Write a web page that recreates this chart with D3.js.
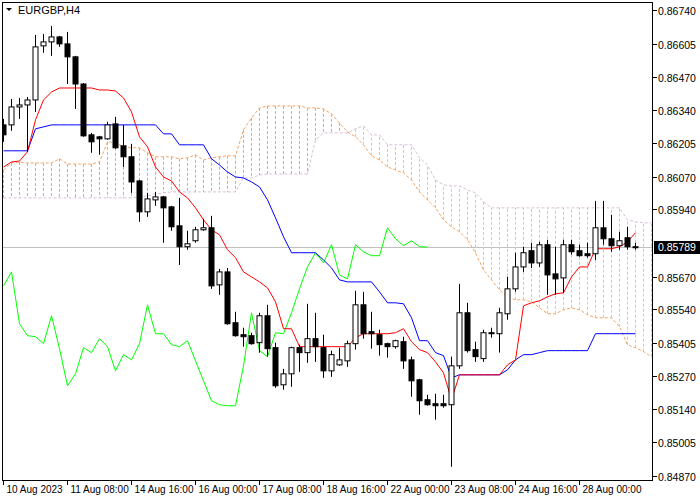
<!DOCTYPE html>
<html><head><meta charset="utf-8">
<script src="https://cdn.jsdelivr.net/npm/d3@7"></script>
<style>body{margin:0;background:#fff}svg{display:block}</style>
</head><body>
<svg id="c" width="700" height="500"></svg>
<script>
const symbol = "EURGBP,H4";
const lastPrice = 0.85789;
const open = [0.86279,0.86279,0.86351,0.86359,0.86379,0.86596,0.86612,0.86632,0.86604,0.86552,
0.86443,0.86239,0.86231,0.86223,0.86283,0.86195,0.86151,0.86054,0.85930,0.85978,
0.85990,0.85950,0.85874,0.85790,0.85814,0.85858,0.85866,0.85637,0.85689,0.85485,
0.85437,0.85433,0.85405,0.85513,0.85385,0.85236,0.85280,0.85385,0.85365,0.85421,
0.85385,0.85292,0.85316,0.85332,0.85401,0.85557,0.85449,0.85437,0.85401,0.85389,
0.85409,0.85336,0.85256,0.85176,0.85160,0.85160,0.85156,0.85312,0.85525,0.85377,
0.85341,0.85445,0.85441,0.85521,0.85621,0.85709,0.85774,0.85725,0.85798,0.85681,
0.85665,0.85798,0.85774,0.85762,0.85762,0.85866,0.85822,0.85794,0.85826,0.85790];
const high = [0.86303,0.86383,0.86387,0.86391,0.86640,0.86644,0.86676,0.86636,0.86652,0.86556,
0.86447,0.86247,0.86235,0.86291,0.86311,0.86279,0.86203,0.86058,0.86006,0.86010,
0.85994,0.85954,0.85986,0.85854,0.85870,0.85902,0.85914,0.85701,0.85705,0.85529,
0.85465,0.85445,0.85525,0.85557,0.85405,0.85300,0.85389,0.85397,0.85561,0.85525,
0.85437,0.85373,0.85385,0.85413,0.85613,0.85609,0.85529,0.85457,0.85405,0.85417,
0.85429,0.85349,0.85260,0.85196,0.85200,0.85196,0.85349,0.85641,0.85565,0.85409,
0.85457,0.85465,0.85545,0.85669,0.85766,0.85790,0.85806,0.85810,0.85818,0.85790,
0.85818,0.85818,0.85798,0.85806,0.85974,0.85974,0.85918,0.85850,0.85870,0.85806];
const low = [0.86211,0.86255,0.86303,0.86171,0.86331,0.86568,0.86556,0.86592,0.86443,0.86343,
0.86231,0.86167,0.86159,0.86219,0.86183,0.86110,0.86006,0.85890,0.85910,0.85954,
0.85806,0.85854,0.85717,0.85778,0.85806,0.85854,0.85621,0.85597,0.85477,0.85429,
0.85389,0.85397,0.85365,0.85349,0.85224,0.85216,0.85228,0.85288,0.85324,0.85328,
0.85264,0.85268,0.85312,0.85308,0.85377,0.85421,0.85381,0.85353,0.85345,0.85381,
0.85300,0.85188,0.85116,0.85152,0.85096,0.85144,0.84907,0.85300,0.85365,0.85328,
0.85328,0.85425,0.85365,0.85497,0.85609,0.85689,0.85705,0.85709,0.85597,0.85597,
0.85605,0.85758,0.85750,0.85746,0.85737,0.85798,0.85770,0.85778,0.85778,0.85778];
const close = [0.86239,0.86351,0.86359,0.86379,0.86592,0.86612,0.86632,0.86604,0.86552,0.86443,
0.86235,0.86211,0.86223,0.86279,0.86187,0.86151,0.86050,0.85930,0.85982,0.85990,
0.85946,0.85870,0.85790,0.85802,0.85858,0.85866,0.85633,0.85689,0.85481,0.85433,
0.85429,0.85401,0.85513,0.85381,0.85232,0.85280,0.85385,0.85365,0.85421,0.85389,
0.85292,0.85357,0.85336,0.85401,0.85557,0.85441,0.85441,0.85397,0.85389,0.85413,
0.85332,0.85252,0.85172,0.85156,0.85152,0.85152,0.85312,0.85525,0.85373,0.85349,
0.85445,0.85441,0.85525,0.85621,0.85709,0.85766,0.85725,0.85798,0.85677,0.85661,
0.85798,0.85770,0.85754,0.85754,0.85866,0.85822,0.85794,0.85814,0.85790,0.85789];
const tenkan = [0.86110,0.86130,0.86134,0.86171,0.86299,0.86379,0.86411,0.86427,0.86427,0.86427,
0.86427,0.86427,0.86419,0.86419,0.86415,0.86387,0.86331,0.86231,0.86191,0.86110,
0.86070,0.86054,0.86010,0.85986,0.85946,0.85898,0.85858,0.85838,0.85778,0.85746,
0.85689,0.85669,0.85649,0.85625,0.85569,0.85461,0.85461,0.85389,0.85389,0.85389,
0.85389,0.85389,0.85389,0.85389,0.85425,0.85441,0.85441,0.85441,0.85441,0.85445,
0.85461,0.85409,0.85377,0.85365,0.85328,0.85284,0.85176,0.85276,0.85276,0.85276,
0.85276,0.85276,0.85276,0.85316,0.85336,0.85553,0.85565,0.85573,0.85589,0.85601,
0.85605,0.85669,0.85709,0.85709,0.85782,0.85782,0.85782,0.85790,0.85810,0.85846];
const kijun = [0.86175,0.86175,0.86175,0.86175,0.86263,0.86271,0.86279,0.86279,0.86279,0.86279,
0.86279,0.86279,0.86279,0.86279,0.86279,0.86279,0.86279,0.86279,0.86279,0.86279,
0.86243,0.86243,0.86199,0.86199,0.86199,0.86199,0.86143,0.86118,0.86090,0.86070,
0.86066,0.86050,0.86030,0.85978,0.85906,0.85830,0.85766,0.85766,0.85766,0.85766,
0.85737,0.85705,0.85657,0.85649,0.85649,0.85649,0.85649,0.85609,0.85565,0.85565,
0.85561,0.85505,0.85413,0.85413,0.85365,0.85353,0.85264,0.85276,0.85276,0.85276,
0.85276,0.85276,0.85276,0.85296,0.85336,0.85357,0.85357,0.85365,0.85373,0.85373,
0.85373,0.85373,0.85373,0.85373,0.85441,0.85441,0.85441,0.85441,0.85441,0.85441];
const senkouA = [0.86098,0.86126,0.86130,0.86126,0.86126,0.86126,0.86126,0.86143,0.86122,0.86122,
0.86122,0.86122,0.86130,0.86211,0.86207,0.86191,0.86187,0.86187,0.86167,0.86151,
0.86151,0.86151,0.86143,0.86147,0.86159,0.86138,0.86147,0.86151,0.86155,0.86155,
0.86259,0.86307,0.86347,0.86355,0.86355,0.86355,0.86355,0.86355,0.86347,0.86347,
0.86343,0.86323,0.86287,0.86251,0.86231,0.86199,0.86155,0.86138,0.86110,0.86098,
0.86086,0.86058,0.86010,0.85978,0.85946,0.85898,0.85870,0.85850,0.85818,0.85766,
0.85697,0.85657,0.85617,0.85589,0.85577,0.85577,0.85569,0.85545,0.85521,0.85521,
0.85537,0.85545,0.85537,0.85517,0.85505,0.85505,0.85505,0.85469,0.85397,0.85385,
0.85369,0.85349];
const senkouB = [0.85986,0.85986,0.85986,0.85986,0.85986,0.85986,0.85986,0.85986,0.85986,0.85986,
0.85986,0.85986,0.85986,0.85986,0.85986,0.85986,0.85986,0.85990,0.85994,0.86002,
0.86006,0.86010,0.86010,0.86010,0.86010,0.86010,0.86010,0.86010,0.86010,0.86010,
0.86066,0.86066,0.86078,0.86082,0.86082,0.86082,0.86082,0.86082,0.86082,0.86219,
0.86247,0.86247,0.86247,0.86247,0.86263,0.86275,0.86239,0.86239,0.86199,0.86199,
0.86199,0.86199,0.86147,0.86118,0.86058,0.86038,0.86034,0.86034,0.86018,0.86006,
0.85970,0.85946,0.85946,0.85946,0.85946,0.85946,0.85946,0.85946,0.85946,0.85946,
0.85946,0.85946,0.85946,0.85946,0.85946,0.85946,0.85946,0.85946,0.85898,0.85890,
0.85886,0.85886];
const chikouShift = 26;
// 0.85805 is hidden behind the current-price box in the reference
const priceTicks = [0.86740,0.86605,0.86470,0.86340,0.86205,0.86070,0.85940,0.85670,0.85540,0.85405,0.85270,0.85140,0.85005,0.84870];
const timeTickIdx = [0,8,16,24,32,40,48,56,64,72];
const timeTickLabels = ["10 Aug 2023","11 Aug 08:00","14 Aug 16:00","16 Aug 00:00","17 Aug 08:00","18 Aug 16:00","22 Aug 00:00","23 Aug 08:00","24 Aug 16:00","28 Aug 00:00"];

const svg = d3.select("#c");
const L = 2, R = 653, T = 2, B = 480;
const x = d3.scaleLinear().domain([0, 81]).range([3, 651]);
const y = d3.scaleLinear().domain([0.84870, 0.86740]).range([476, 10]);
const font = "'Liberation Sans', Arial, sans-serif";

svg.append("defs").append("clipPath").attr("id","pc").append("rect")
  .attr("x",L).attr("y",T).attr("width",R-L).attr("height",B-T);
const g = svg.append("g").attr("clip-path","url(#pc)");

g.append("line").attr("x1",L).attr("x2",R).attr("y1",Math.round(y(lastPrice))+0.5).attr("y2",Math.round(y(lastPrice))+0.5)
  .attr("stroke","#c0c0c0").attr("stroke-width",1);

const orange = "#f4a460", thistle = "#d8bfd8";
g.selectAll("line.h").data(senkouA.map((a,i)=>({i,a,b:senkouB[i]}))).join("line")
  .attr("x1",d=>x(d.i)+0.5).attr("x2",d=>x(d.i)+0.5)
  .attr("y1",d=>y(d.a)).attr("y2",d=>y(d.b))
  .attr("stroke",d=>d.a>=d.b?orange:thistle).attr("stroke-width",1).attr("stroke-dasharray","3,2");

const line = d3.line().x((d,i)=>x(i)+0.5).y(d=>y(d));
g.append("path").attr("d",line(senkouA)).attr("fill","none").attr("stroke",orange).attr("stroke-dasharray","3,2");
g.append("path").attr("d",line(senkouB)).attr("fill","none").attr("stroke",thistle).attr("stroke-dasharray","3,2");

const chikou = close.slice(chikouShift);
g.append("path").attr("d",line(chikou)).attr("fill","none").attr("stroke","#00ff00");
g.append("path").attr("d",line(kijun)).attr("fill","none").attr("stroke","#0000ff");
g.append("path").attr("d",line(tenkan)).attr("fill","none").attr("stroke","#ff0000");

const cd = close.map((c,i)=>({i,o:open[i],h:high[i],l:low[i],c}));
const cg = g.selectAll("g.cd").data(cd).join("g");
cg.append("line").attr("x1",d=>x(d.i)+0.5).attr("x2",d=>x(d.i)+0.5)
  .attr("y1",d=>y(d.h)).attr("y2",d=>y(d.l)).attr("stroke","#000");
cg.append("rect").attr("x",d=>x(d.i)-2).attr("width",5)
  .attr("y",d=>Math.min(y(d.o),y(d.c))).attr("height",d=>Math.max(1,Math.abs(y(d.o)-y(d.c))))
  .attr("fill",d=>d.c>=d.o?"#fff":"#000").attr("stroke","#000");

svg.append("rect").attr("x",L+0.5).attr("y",T+0.5).attr("width",R-L-1).attr("height",B-T).attr("fill","none").attr("stroke","#000");

const ya = svg.append("g");
priceTicks.forEach(p=>{
  const yy = Math.round(y(p))+0.5;
  ya.append("line").attr("x1",R).attr("x2",R+4).attr("y1",yy).attr("y2",yy).attr("stroke","#000");
  ya.append("text").attr("x",R+5).attr("y",yy+4).text(p.toFixed(5))
    .attr("font-family",font).attr("font-size","10.5px").attr("fill","#000");
});
const ly = Math.round(y(lastPrice));
ya.append("rect").attr("x",R+1).attr("y",ly-6).attr("width",46).attr("height",13).attr("fill","#000");
ya.append("text").attr("x",R+5).attr("y",ly+4).text(lastPrice.toFixed(5))
  .attr("font-family",font).attr("font-size","10.5px").attr("fill","#fff");

timeTickIdx.forEach((ix,k)=>{
  const xx = Math.round(x(ix))+0.5;
  svg.append("line").attr("x1",xx).attr("x2",xx).attr("y1",B).attr("y2",B+5).attr("stroke","#000");
  svg.append("text").attr("x",xx+3).attr("y",B+13).text(timeTickLabels[k])
    .attr("font-family",font).attr("font-size","10px").attr("fill","#000");
});

svg.append("path").attr("d","M6,8 L12,8 L9,11 Z").attr("fill","#000");
svg.append("text").attr("x",18).attr("y",14).text(symbol).attr("font-family",font).attr("font-size","11px").attr("fill","#000");
</script>
</body></html>
